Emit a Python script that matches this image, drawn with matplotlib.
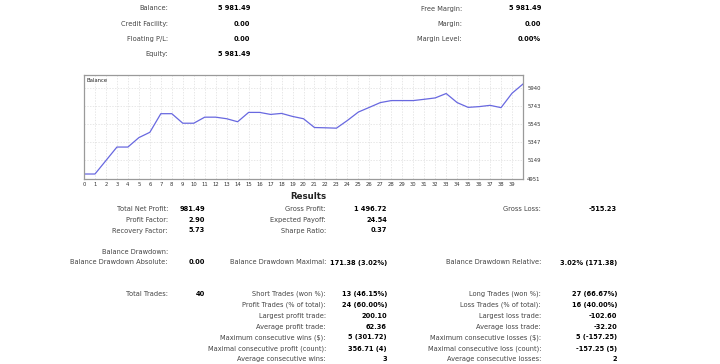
import matplotlib
matplotlib.use("Agg")
import matplotlib.pyplot as plt

# balance curve, one point per deal (0..40)
balance = [5000, 5000, 5147, 5294, 5294, 5397, 5455, 5658, 5658, 5554,
           5554, 5620, 5620, 5603, 5570, 5672, 5672, 5650, 5661, 5628,
           5603, 5507, 5504, 5500, 5584, 5676, 5727, 5779, 5801, 5801,
           5801, 5815, 5830, 5878, 5779, 5727, 5735, 5749, 5724, 5881,
           5981.49]
deals = list(range(len(balance)))
xticks = list(range(40))
yticks = [4951, 5149, 5347, 5545, 5743, 5940]

# account summary
top_left = [("Balance:", "5 981.49"), ("Credit Facility:", "0.00"),
            ("Floating P/L:", "0.00"), ("Equity:", "5 981.49")]
top_right = [("Free Margin:", "5 981.49"), ("Margin:", "0.00"),
             ("Margin Level:", "0.00%")]

# results table: (row y in px, column, label, value)
results = [
    (209, 0, "Total Net Profit:", "981.49"),
    (209, 1, "Gross Profit:", "1 496.72"),
    (209, 2, "Gross Loss:", "-515.23"),
    (220, 0, "Profit Factor:", "2.90"),
    (220, 1, "Expected Payoff:", "24.54"),
    (230.5, 0, "Recovery Factor:", "5.73"),
    (230.5, 1, "Sharpe Ratio:", "0.37"),
    (252, 0, "Balance Drawdown:", ""),
    (262.5, 0, "Balance Drawdown Absolute:", "0.00"),
    (262.5, 1, "Balance Drawdown Maximal:", "171.38 (3.02%)"),
    (262.5, 2, "Balance Drawdown Relative:", "3.02% (171.38)"),
    (294, 0, "Total Trades:", "40"),
    (294, 1, "Short Trades (won %):", "13 (46.15%)"),
    (294, 2, "Long Trades (won %):", "27 (66.67%)"),
    (305, 1, "Profit Trades (% of total):", "24 (60.00%)"),
    (305, 2, "Loss Trades (% of total):", "16 (40.00%)"),
    (316, 1, "Largest profit trade:", "200.10"),
    (316, 2, "Largest loss trade:", "-102.60"),
    (327, 1, "Average profit trade:", "62.36"),
    (327, 2, "Average loss trade:", "-32.20"),
    (337.5, 1, "Maximum consecutive wins ($):", "5 (301.72)"),
    (337.5, 2, "Maximum consecutive losses ($):", "5 (-157.25)"),
    (348.5, 1, "Maximal consecutive profit (count):", "356.71 (4)"),
    (348.5, 2, "Maximal consecutive loss (count):", "-157.25 (5)"),
    (359, 1, "Average consecutive wins:", "3"),
    (359, 2, "Average consecutive losses:", "2"),
]

W, H = 720, 364
fig = plt.figure(figsize=(7.2, 3.64), dpi=100)
fs = 4.8
lab_c = "#444444"


def put(x, y, s, **kw):
    fig.text(x / W, 1 - y / H, s, va="center", **kw)


for i, (lab, val) in enumerate(top_left):
    y = 8.5 + i * 15.3
    put(168, y, lab, ha="right", fontsize=fs, color=lab_c)
    put(250, y, val, ha="right", fontsize=fs, color="black", fontweight="bold")
for i, (lab, val) in enumerate(top_right):
    y = 8.5 + i * 15.3
    put(462, y, lab, ha="right", fontsize=fs, color=lab_c)
    put(541, y, val, ha="right", fontsize=fs, color="black", fontweight="bold")

put(308, 196.5, "Results", ha="center", fontsize=6.2, fontweight="bold", color="#222222")

lab_x = [168, 326, 541]
val_x = [205, 387, 617]
for y, c, lab, val in results:
    put(lab_x[c], y, lab, ha="right", fontsize=fs, color=lab_c)
    if val:
        put(val_x[c], y, val, ha="right", fontsize=fs, color="black", fontweight="bold")

ax = fig.add_axes([84 / W, 1 - 178.5 / H, (523 - 84) / W, (178.5 - 75) / H])
ax.plot(deals, balance, color="#6868e0", linewidth=0.9)
ax.set_xlim(0, 40)
ax.set_ylim(4951, 6080)
ax.set_xticks(xticks)
ax.set_yticks(yticks)
ax.set_yticklabels([str(v) for v in yticks])
ax.yaxis.tick_right()
ax.tick_params(axis="both", length=0, labelsize=3.8, colors="#333333")
ax.tick_params(axis="x", pad=2.5)
ax.tick_params(axis="y", pad=3)
ax.grid(True, color="#dddddd", linestyle=(0, (2, 2)), linewidth=0.5)
for sp in ax.spines.values():
    sp.set_color("#9a9a9a")
    sp.set_linewidth(0.9)
ax.text(0.005, 0.97, "Balance", transform=ax.transAxes, fontsize=3.8,
        va="top", ha="left", color="#222222")

fig.savefig("out.png", dpi=100)
